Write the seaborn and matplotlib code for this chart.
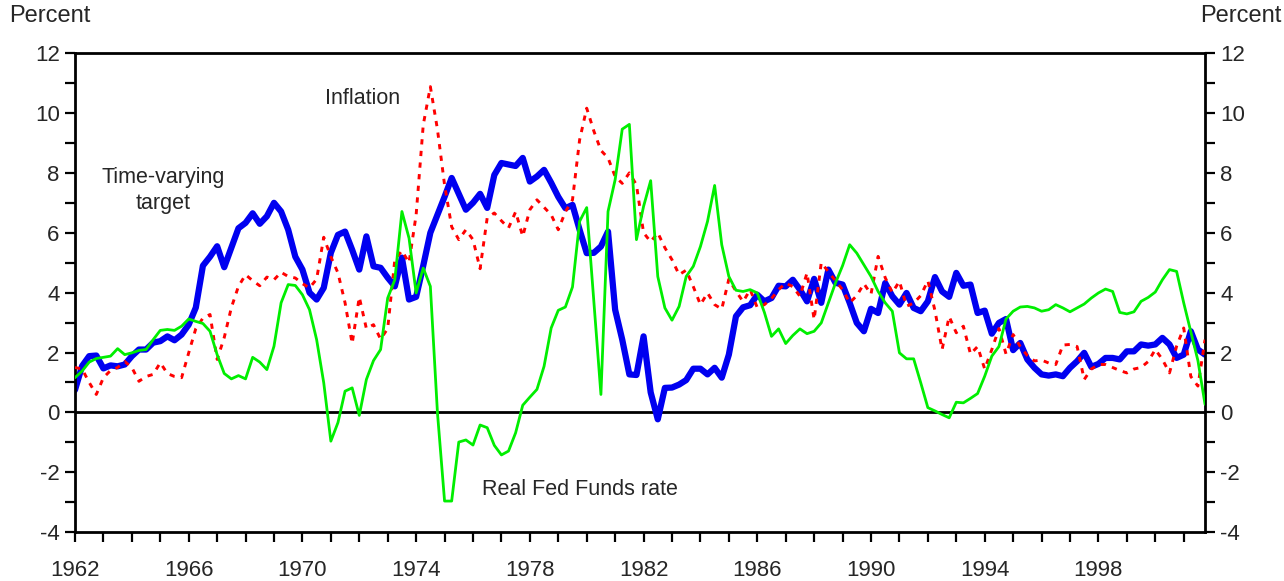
### Time-varying inflation target vs inflation and real fed funds rate ###

import numpy as np
import pandas as pd
import matplotlib.pyplot as plt
import seaborn as sns

# quarterly data, 1962Q1 .. 2001Q4 (percent)
start_year = 1962
n_quarters = 160

target = [
    0.75, 1.55, 1.88, 1.90, 1.47, 1.57, 1.54, 1.60, 1.88, 2.10,
    2.10, 2.33, 2.38, 2.54, 2.41, 2.60, 2.93, 3.50, 4.90, 5.20,
    5.55, 4.85, 5.50, 6.15, 6.33, 6.65, 6.30, 6.55, 7.00, 6.71,
    6.10, 5.20, 4.77, 4.00, 3.77, 4.16, 5.33, 5.93, 6.04, 5.43,
    4.77, 5.88, 4.88, 4.83, 4.50, 4.21, 5.17, 3.77, 3.86, 4.90,
    6.00, 6.60, 7.20, 7.83, 7.30, 6.77, 7.00, 7.30, 6.83, 7.93,
    8.33, 8.28, 8.23, 8.50, 7.71, 7.88, 8.10, 7.67, 7.20, 6.82,
    6.93, 6.10, 5.32, 5.33, 5.54, 6.04, 3.43, 2.43, 1.27, 1.25,
    2.54, 0.67, -0.23, 0.82, 0.83, 0.93, 1.08, 1.46, 1.46, 1.27,
    1.49, 1.16, 1.93, 3.21, 3.51, 3.58, 3.93, 3.71, 3.82, 4.23,
    4.21, 4.43, 4.10, 3.71, 4.46, 3.66, 4.77, 4.33, 4.27, 3.66,
    2.99, 2.71, 3.46, 3.32, 4.32, 3.88, 3.60, 3.99, 3.49, 3.38,
    3.71, 4.52, 4.04, 3.86, 4.66, 4.23, 4.27, 3.32, 3.40, 2.63,
    2.99, 3.12, 2.08, 2.32, 1.77, 1.49, 1.27, 1.23, 1.27, 1.21,
    1.49, 1.71, 1.99, 1.52, 1.62, 1.82, 1.82, 1.77, 2.04, 2.04,
    2.27, 2.23, 2.27, 2.49, 2.27, 1.82, 1.93, 2.71, 2.10, 1.93,
]

inflation = [
    1.50, 1.45, 1.00, 0.60, 1.16, 1.40, 1.50, 1.70, 1.50, 1.04,
    1.20, 1.27, 1.66, 1.30, 1.20, 1.16, 1.99, 2.80, 3.15, 3.27,
    1.77, 2.50, 3.50, 4.21, 4.60, 4.40, 4.23, 4.52, 4.43, 4.68,
    4.54, 4.49, 4.30, 4.16, 4.45, 5.85, 5.20, 4.66, 3.66, 2.30,
    3.85, 2.80, 2.93, 2.45, 2.80, 5.10, 5.40, 5.00, 6.60, 9.60,
    10.88, 9.45, 7.60, 6.20, 5.77, 6.10, 5.77, 4.80, 6.50, 6.66,
    6.40, 6.16, 6.70, 5.88, 6.77, 7.10, 6.85, 6.60, 6.10, 6.70,
    7.10, 9.10, 10.16, 9.40, 8.75, 8.50, 7.88, 7.65, 8.00, 7.60,
    6.00, 5.70, 6.00, 5.50, 5.10, 4.60, 4.75, 4.20, 3.60, 3.99,
    3.60, 3.45, 4.45, 4.05, 3.70, 4.10, 3.50, 3.60, 3.80, 4.10,
    4.32, 4.20, 3.88, 4.66, 3.10, 5.00, 4.70, 4.40, 4.10, 3.66,
    3.90, 4.30, 3.95, 5.21, 4.50, 4.00, 4.38, 3.55, 3.65, 3.90,
    4.40, 3.40, 2.10, 3.20, 2.66, 2.88, 1.95, 2.20, 1.45, 2.10,
    2.80, 1.95, 2.60, 2.20, 1.90, 1.72, 1.75, 1.65, 1.60, 2.25,
    2.27, 2.20, 1.10, 1.45, 1.60, 1.60, 1.50, 1.40, 1.32, 1.45,
    1.50, 1.70, 2.10, 1.77, 1.32, 2.21, 2.82, 1.20, 0.88, 2.43,
]

real_ffr = [
    1.16, 1.38, 1.68, 1.80, 1.84, 1.88, 2.13, 1.93, 1.99, 2.07,
    2.10, 2.43, 2.74, 2.77, 2.74, 2.88, 3.12, 3.04, 2.97, 2.71,
    1.93, 1.30, 1.12, 1.23, 1.12, 1.84, 1.68, 1.43, 2.21, 3.66,
    4.27, 4.24, 3.93, 3.43, 2.43, 0.99, -0.96, -0.34, 0.71, 0.82,
    -0.10, 1.10, 1.73, 2.10, 3.82, 4.43, 6.71, 5.82, 3.99, 4.82,
    4.21, -0.01, -2.96, -2.96, -0.99, -0.92, -1.09, -0.42, -0.51, -1.10,
    -1.42, -1.29, -0.68, 0.24, 0.51, 0.77, 1.54, 2.82, 3.41, 3.52,
    4.19, 6.38, 6.84, 3.70, 0.60, 6.71, 7.77, 9.46, 9.62, 5.77,
    6.88, 7.74, 4.54, 3.49, 3.08, 3.54, 4.54, 4.88, 5.54, 6.38,
    7.58, 5.60, 4.54, 4.08, 4.04, 4.10, 3.99, 3.34, 2.54, 2.79,
    2.30, 2.57, 2.79, 2.63, 2.71, 2.99, 3.66, 4.32, 4.90, 5.60,
    5.32, 4.93, 4.54, 4.04, 3.66, 3.38, 1.99, 1.79, 1.79, 0.99,
    0.16, 0.05, -0.07, -0.18, 0.34, 0.32, 0.47, 0.63, 1.21, 1.88,
    2.20, 3.12, 3.38, 3.52, 3.54, 3.49, 3.38, 3.43, 3.60, 3.49,
    3.36, 3.49, 3.62, 3.82, 3.99, 4.12, 4.04, 3.34, 3.29, 3.36,
    3.71, 3.84, 4.02, 4.43, 4.77, 4.71, 3.66, 2.70, 1.73, 0.27,
]

year_ticks = list(range(1962, 2002, 4))

df = pd.DataFrame({
    'date': start_year + np.arange(n_quarters) / 4,
    'target': target,
    'inflation': inflation,
    'real_ffr': real_ffr,
})

sns.set_style('ticks')
plt.rcParams['font.family'] = ['Liberation Sans', 'DejaVu Sans']
plt.rcParams['axes.unicode_minus'] = False

fig = plt.figure(figsize=(12.84, 5.81), dpi=100)
ax = fig.add_axes([0.0584, 0.084, 0.8801, 0.8246])

ax.axhline(0, color='black', lw=2, zorder=1)

sns.lineplot(data=df, x='date', y='target', ax=ax, color='#0000f0',
             lw=4.5, estimator=None, zorder=2)
sns.lineplot(data=df, x='date', y='inflation', ax=ax, color='#ff0000',
             lw=2.1, linestyle=(0, (1.8, 2.2)), estimator=None, zorder=3)
sns.lineplot(data=df, x='date', y='real_ffr', ax=ax, color='#00ee00',
             lw=2, estimator=None, zorder=4)

ax.set_xlim(1962, 2001.75)
ax.set_ylim(-4, 12)
ax.set_xticks(year_ticks)
ax.set_xticks(range(1962, 2002), minor=True)
ax.set_yticks(range(-4, 13, 2))
ax.set_yticks(range(-3, 12, 2), minor=True)
ax.set_xlabel('')
ax.set_ylabel('')

for s in ax.spines.values():
    s.set_visible(True)
    s.set_linewidth(2)
    s.set_color('black')

ax.tick_params(which='both', direction='out', length=7, width=1.6,
               color='black', labelsize=16, left=True, right=True,
               labelleft=True, labelright=True)
ax.tick_params(axis='x', which='both', pad=13)
ax.tick_params(axis='y', which='both', pad=4)

# series labels
ax.text(1972.1, 10.5, 'Inflation', fontsize=15.5, ha='center', va='center')
ax.text(1965.1, 7.4, 'Time-varying\ntarget', fontsize=15.5, ha='center',
        va='center', linespacing=1.3)
ax.text(1979.75, -2.57, 'Real Fed Funds rate', fontsize=15.5, ha='center',
        va='center')

fig.text(0.007, 0.972, 'Percent', fontsize=17, ha='left', va='center')
fig.text(0.998, 0.972, 'Percent', fontsize=17, ha='right', va='center')

fig.savefig('out.png', dpi=100)
